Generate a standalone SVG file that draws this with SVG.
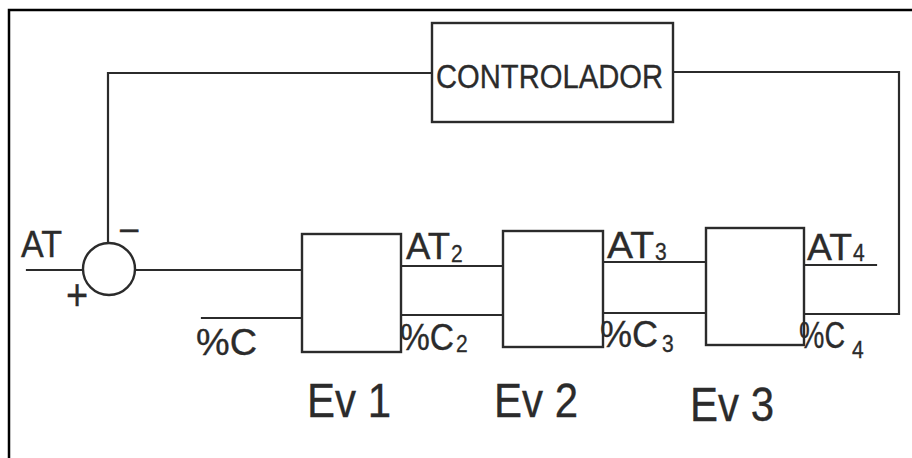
<svg xmlns="http://www.w3.org/2000/svg" width="912" height="458" viewBox="0 0 912 458">
<style>
.ln{fill:none;stroke:#2b2b2b;stroke-width:2.2;stroke-linecap:square}
.bx{fill:#fff;stroke:#2b2b2b;stroke-width:2.4}
.t{font-family:"Liberation Sans",Arial,sans-serif;fill:#2b2b2b;stroke:#2b2b2b;stroke-width:0.3}
.lg{font-size:33px}
.sb{font-size:21px}
.ev{font-size:42px}
</style>
<rect width="912" height="458" fill="#fff"/>
<path d="M9,458 V10 H912" fill="none" stroke="#000" stroke-width="2.5"/>
<g id="connectors">
<path class="ln" d="M108,243 V73 H432"/>
<path class="ln" d="M673,72 H899 V314 H804"/>
<path class="ln" d="M27,270 H83"/>
<path class="ln" d="M135,270 H302"/>
<path class="ln" d="M202,318 H302"/>
<path class="ln" d="M401,266 H503"/>
<path class="ln" d="M401,315 H503"/>
<path class="ln" d="M603,262 H706"/>
<path class="ln" d="M603,313 H706"/>
<path class="ln" d="M804,265 H876"/>
</g>
<g id="controlador">
<rect class="bx" x="432" y="23" width="241" height="99"/>
<text class="t" transform="translate(436,88) scale(1,1.1)" font-size="30" textLength="227" lengthAdjust="spacingAndGlyphs">CONTROLADOR</text>
</g>
<g id="sumador">
<circle class="bx" cx="109" cy="269" r="26"/>
<text class="t lg" x="120" y="239">–</text>
<text class="t" transform="translate(66,310) scale(1,1.15)" font-size="38">+</text>
</g>
<g id="ev1">
<rect class="bx" x="302" y="234" width="99" height="118"/>
<text class="t ev" transform="translate(307,417) scale(1,1.14)">Ev 1</text>
</g>
<g id="ev2">
<rect class="bx" x="503" y="231" width="100" height="116"/>
<text class="t ev" transform="translate(494,417) scale(1,1.14)">Ev 2</text>
</g>
<g id="ev3">
<rect class="bx" x="706" y="228" width="98" height="117"/>
<text class="t ev" transform="translate(690,421) scale(1,1.14)">Ev 3</text>
</g>
<g id="labels">
<text class="t lg" transform="translate(21,257) scale(1,1.1)" textLength="41" lengthAdjust="spacingAndGlyphs">AT</text>
<text class="t lg" transform="translate(196,355) scale(1,1.1)" textLength="61" lengthAdjust="spacingAndGlyphs">%C</text>
<text class="t lg" transform="translate(406,259) scale(1,1.1)" textLength="44" lengthAdjust="spacingAndGlyphs">AT</text><text class="t sb" transform="translate(451,262) scale(1,1.1)">2</text>
<text class="t lg" transform="translate(400,350) scale(1,1.1)" textLength="54" lengthAdjust="spacingAndGlyphs">%C</text><text class="t sb" transform="translate(456,352) scale(1,1.1)">2</text>
<text class="t lg" transform="translate(607,258) scale(1,1.1)" textLength="47" lengthAdjust="spacingAndGlyphs">AT</text><text class="t sb" transform="translate(655,260) scale(1,1.1)">3</text>
<text class="t lg" transform="translate(600,347) scale(1,1.1)" textLength="58" lengthAdjust="spacingAndGlyphs">%C</text><text class="t sb" transform="translate(662,352) scale(1,1.1)">3</text>
<text class="t lg" transform="translate(807,260) scale(1,1.1)" textLength="45" lengthAdjust="spacingAndGlyphs">AT</text><text class="t sb" transform="translate(853,261) scale(1,1.1)">4</text>
<text class="t lg" transform="translate(799,348) scale(1,1.1)" textLength="46" lengthAdjust="spacingAndGlyphs">%C</text><text class="t sb" transform="translate(852,358) scale(1,1.1)">4</text>
</g>
</svg>
